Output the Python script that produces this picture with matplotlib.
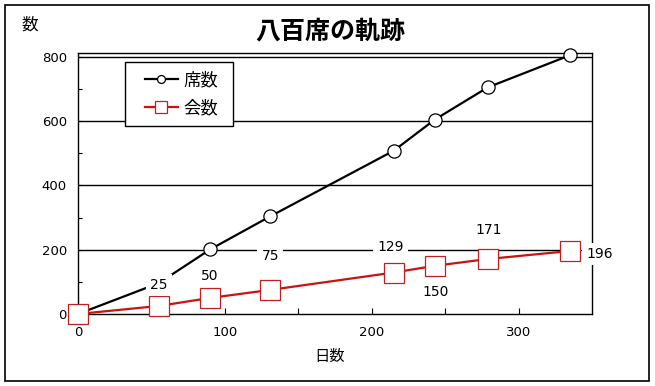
"""Recreate the 八百席の軌跡 line chart (seats and meetings vs. days)."""

import matplotlib

matplotlib.use("Agg")
import matplotlib.pyplot as plt
from matplotlib.patches import Rectangle

plt.rcParams["font.family"] = ["Noto Sans CJK JP", "DejaVu Sans"]

# data
days = [0, 55, 90, 131, 215, 243, 279, 335]
seats = [0, 96, 201, 304, 508, 605, 705, 805]
meetings = [0, 25, 50, 75, 129, 150, 171, 196]

# label offsets for the meeting counts, in pixels (dx, dy)
label_offsets = [None, (0, 21), (0, 22), (0, 34), (-3, 26), (1, -26), (1, 29), (30, -3)]

W, H = 655, 386
fig = plt.figure(figsize=(W / 100, H / 100), dpi=100)
ax = fig.add_axes([78 / W, 1 - 314 / H, (592 - 78) / W, (314 - 53) / H])

red = "#cc1111"
(seat_line,) = ax.plot(days, seats, color="black", lw=1.6, marker="o", ms=9.5,
                       mfc="white", mec="black", mew=0.9, label="席数",
                       clip_on=False, zorder=3)
(meet_line,) = ax.plot(days, meetings, color=red, lw=1.6, marker="s", ms=14,
                       mfc="white", mec="#c02020", mew=0.9, label="会数",
                       clip_on=False, zorder=4)

for x, y, off in zip(days, meetings, label_offsets):
    if off is None:
        continue
    ax.annotate(str(y), (x, y), xytext=off, textcoords="offset pixels",
                ha="center", va="center", fontsize=10, family="DejaVu Sans",
                bbox=dict(boxstyle="square,pad=0.3", fc="white", ec="none"),
                zorder=6, annotation_clip=False)

ax.set_xlim(0, 350)
ax.set_ylim(0, 812)
ax.set_xticks([0, 100, 200, 300])
ax.set_xticks([50, 150, 250], minor=True)
ax.set_yticks([0, 200, 400, 600, 800])
ax.set_yticks([100, 300, 500, 700], minor=True)
ax.tick_params(axis="both", which="both", direction="in", labelsize=9.5, width=0.8)
ax.tick_params(axis="x", which="both", length=4, pad=9)
ax.tick_params(axis="y", which="both", length=3, pad=8)
for lab in ax.get_xticklabels() + ax.get_yticklabels():
    lab.set_family("DejaVu Sans")

for v in [200, 400, 600, 800]:
    ax.axhline(v, color="black", lw=1.0, zorder=1)
for s in ax.spines.values():
    s.set_linewidth(1.0)

# legend entries without frame, frame drawn as a box behind them
leg = fig.legend(handles=[seat_line, meet_line], loc="upper left",
                 bbox_to_anchor=(145 / W, 1 - 71 / H),
                 fontsize=12.5, frameon=False, borderpad=0, labelspacing=0.6,
                 handlelength=1.9, handletextpad=0.3, markerscale=0.6,
                 borderaxespad=0)
leg.set_zorder(8)
fig.add_artist(Rectangle((125 / W, 1 - 126 / H), 108 / W, 64 / H,
                         transform=fig.transFigure, fc="white", ec="black",
                         lw=1.0, zorder=7))

fig.text(330 / W, 1 - 31 / H, "八百席の軌跡", ha="center", va="center",
         fontsize=18, fontweight="bold")
fig.text(30 / W, 1 - 25 / H, "数", ha="center", va="center", fontsize=12)
fig.text(330 / W, 1 - 357 / H, "日数", ha="center", va="center", fontsize=11)

fig.add_artist(Rectangle((5 / W, 1 - 381 / H), 644 / W, 376 / H,
                         transform=fig.transFigure, fill=False,
                         ec="black", lw=1.2))

fig.savefig("out.png", dpi=100)
